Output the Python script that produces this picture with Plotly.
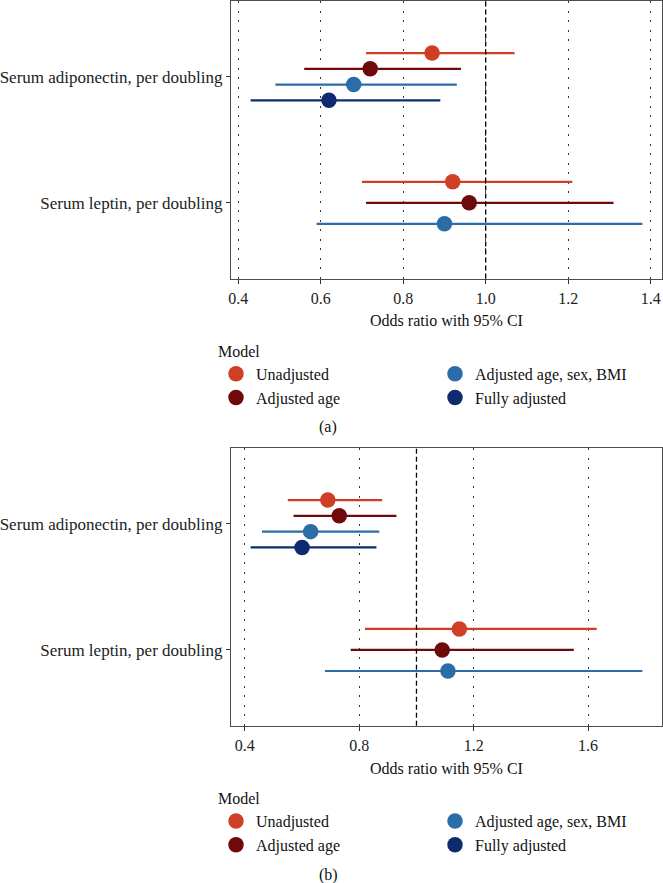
import plotly.graph_objects as go

# ---------------- data ----------------
categories = ["Serum leptin, per doubling", "Serum adiponectin, per doubling"]  # y = 0, 1
models = ["Unadjusted", "Adjusted age", "Adjusted age, sex, BMI", "Fully adjusted"]
colors = ["#CF3F26", "#6E0A0C", "#2A6DA8", "#0D2B6E"]
legend_rank = [1, 3, 2, 4]

# panel (a): [leptin, adiponectin]
a_or = [[0.92, 0.87], [0.96, 0.72], [0.90, 0.68], [None, 0.62]]
a_lo = [[0.70, 0.71], [0.71, 0.56], [0.59, 0.49], [None, 0.43]]
a_hi = [[1.21, 1.07], [1.31, 0.94], [1.38, 0.93], [None, 0.89]]

# panel (b)
b_or = [[1.15, 0.69], [1.09, 0.73], [1.11, 0.63], [None, 0.60]]
b_lo = [[0.82, 0.55], [0.77, 0.57], [0.68, 0.46], [None, 0.42]]
b_hi = [[1.63, 0.88], [1.55, 0.93], [1.79, 0.87], [None, 0.86]]

a_ticks = [0.4, 0.6, 0.8, 1.0, 1.2, 1.4]
b_ticks = [0.4, 0.8, 1.2, 1.6]
null_value = 1.0
dodge_width = 0.5

FONT = "Liberation Serif"
W, H = 663, 883
L_MARGIN = 216


def dodge(or_vals):
    """y positions per model per category (ggplot-like position_dodge)."""
    ys = [[None] * len(categories) for _ in models]
    for c in range(len(categories)):
        present = [m for m in range(len(models)) if or_vals[m][c] is not None]
        n = len(present)
        for idx, m in enumerate(present):
            ys[m][c] = c + dodge_width / 2 - dodge_width / (2 * n) - idx * dodge_width / n
    return ys


def pr(lo, hi):
    vals = [v for row in lo + hi for v in row if v is not None]
    mn, mx = min(vals), max(vals)
    e = (mx - mn) * 0.05
    return [mn - e, mx + e]


fig = go.Figure()


def add_panel(or_vals, lo, hi, xa, ya, legend):
    ys = dodge(or_vals)
    for m, name in enumerate(models):
        xs = or_vals[m]
        plus = [None if x is None else h - x for x, h in zip(xs, hi[m])]
        minus = [None if x is None else x - l for x, l in zip(xs, lo[m])]
        fig.add_trace(go.Scatter(
            x=xs, y=ys[m], mode="markers", name=name,
            marker=dict(size=15.5, color=colors[m], line=dict(width=0)),
            error_x=dict(type="data", symmetric=False, array=plus, arrayminus=minus,
                         width=0, thickness=2.2, color=colors[m]),
            xaxis=xa, yaxis=ya, legend=legend, legendrank=legend_rank[m],
            showlegend=True, hoverinfo="x+name",
        ))


add_panel(a_or, a_lo, a_hi, "x", "y", "legend")
add_panel(b_or, b_lo, b_hi, "x2", "y2", "legend2")

xdom = [(231 - L_MARGIN) / (W - L_MARGIN), (662 - L_MARGIN) / (W - L_MARGIN)]
ya_dom = [1 - 278.5 / H, 1 - 1 / H]
yb_dom = [1 - 725.7 / H, 1 - 448 / H]

axis_common = dict(
    showline=True, mirror=True, linecolor="#4d4d4d", linewidth=1.2,
    ticks="outside", ticklen=4, tickcolor="#333", tickwidth=1,
    zeroline=False,
    tickfont=dict(family=FONT, size=16, color="#222"),
)
xcommon = dict(axis_common, showgrid=True, gridcolor="#333", gridwidth=1.3,
               griddash="2px,7.5px", ticklabelstandoff=1,
               title=dict(text="Odds ratio with 95% CI",
                          font=dict(family=FONT, size=16, color="#111"), standoff=9))
ycommon = dict(axis_common, showgrid=False, range=[-0.6, 1.6],
               tickvals=[0, 1], ticktext=categories,
               tickfont=dict(family=FONT, size=17, color="#222"))

fig.update_layout(
    width=W, height=H,
    margin=dict(l=L_MARGIN, r=0, t=0, b=0),
    paper_bgcolor="white", plot_bgcolor="white",
    font=dict(family=FONT, size=16, color="#111"),
    xaxis=dict(xcommon, domain=xdom, anchor="y", range=pr(a_lo, a_hi),
               tickvals=a_ticks, ticktext=[f"{t:.1f}" for t in a_ticks]),
    yaxis=dict(ycommon, domain=ya_dom, anchor="x"),
    xaxis2=dict(xcommon, domain=xdom, anchor="y2", range=pr(b_lo, b_hi),
                tickvals=b_ticks, ticktext=[f"{t:.1f}" for t in b_ticks]),
    yaxis2=dict(ycommon, domain=yb_dom, anchor="x2"),
    showlegend=True,
)

legend_common = dict(
    orientation="h", xref="paper", yref="paper", x=0, xanchor="left", yanchor="top",
    entrywidth=174, entrywidthmode="pixels",
    font=dict(family=FONT, size=16, color="#111"),
    title=dict(text="Model", side="top", font=dict(family=FONT, size=16, color="#111")),
    bgcolor="rgba(0,0,0,0)", traceorder="normal",
)
fig.update_layout(
    legend=dict(legend_common, y=1 - 336 / H),
    legend2=dict(legend_common, y=1 - 783.3 / H),
)

for xr, yr in (("x", "y"), ("x2", "y2")):
    fig.add_shape(type="line", xref=xr, yref=f"{yr} domain", x0=null_value, x1=null_value,
                  y0=0, y1=1, line=dict(color="black", width=1.3, dash="5px,3px"),
                  layer="above")

for lab, py in (("(a)", 427.3), ("(b)", 874.5)):
    fig.add_annotation(text=lab, xref="paper", yref="paper",
                       x=(328 - L_MARGIN) / (W - L_MARGIN), y=1 - py / H,
                       showarrow=False, xanchor="center", yanchor="middle",
                       font=dict(family=FONT, size=16, color="#111"))

fig.write_html("out.html", config={"displayModeBar": False},
               post_script="document.body.style.margin='0px';document.body.style.padding='0px';")
